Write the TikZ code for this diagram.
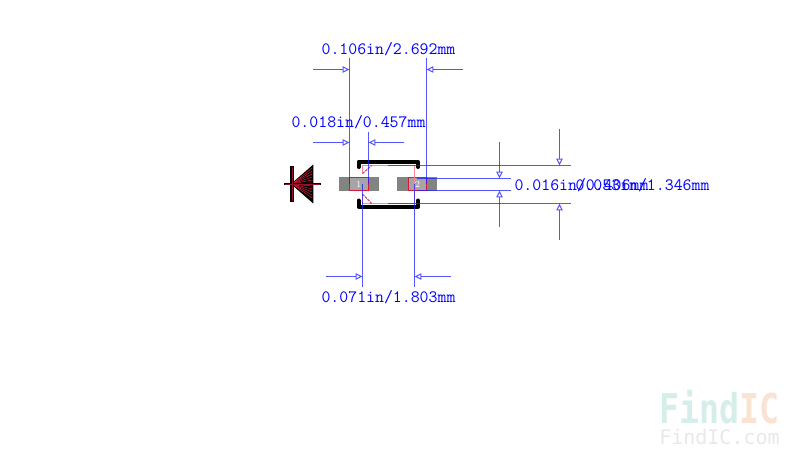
\documentclass[tikz,border=0pt]{standalone}
\usepackage{fontspec}
\usepackage{tikz}
\usetikzlibrary{arrows.meta,calc}
\newfontfamily\markfont{DejaVu Sans Mono}
\definecolor{padgrey}{RGB}{130,132,128}
\definecolor{padlight}{RGB}{165,165,165}
\definecolor{padred}{RGB}{215,25,60}
\definecolor{bodypink}{RGB}{250,135,155}
\definecolor{dimblue}{RGB}{30,30,255}
\definecolor{marktail}{RGB}{214,238,233}
\definecolor{markic}{RGB}{250,227,211}
\definecolor{markgrey}{RGB}{232,232,232}
\tikzset{
    dimline/.style={draw=dimblue,line width=0.75pt,opacity=0.75},
    dimarrow/.style={dimline,-{Triangle[open,length=5.2pt,width=4.8pt]}},
    dimtext/.style={text=blue,inner sep=0pt,font=\fontsize{13}{15}\selectfont\ttfamily},
    pad/.style={fill=padgrey,draw=none},
    silk/.style={draw=black,line width=3pt,line cap=round,line join=round},
    pinlabel/.style={text=white,inner sep=0pt,font=\fontsize{7}{8}\selectfont}
}
\begin{document}
\begin{tikzpicture}[x=0.75pt,y=-0.75pt]
        \useasboundingbox (0,0) rectangle (800,464);

        % Pads
        \fill[pad] (339,177) rectangle (379,191);
        \fill[pad] (397,177) rectangle (437,191);
        \fill[padlight] (349.5,177.5) rectangle (368.5,190.5);
        \fill[padlight] (408.5,177.5) rectangle (426.5,190.5);
        \draw[padred,line width=0.85pt] (349.5,177.5) rectangle (368.5,190.5);
        \draw[padred,line width=0.85pt] (408.5,177.5) rectangle (426.5,190.5);
        \node[pinlabel] (pin1) at (358.8,184) {1};
        \node[pinlabel] (pin2) at (417.5,184) {2};

        % Package outline
        \draw[silk] (358.5,167) -- (358.5,161.7) -- (418,161.7) -- (418,167);
        \draw[silk] (358.5,200.5) -- (358.5,207) -- (418,207) -- (418,200.5);
        \draw[bodypink,line width=0.85pt] (362.5,173.5) -- (362.5,165.5) -- (414.5,165.5) -- (414.5,203.5) -- (362.5,203.5) -- (362.5,194);
        \draw[padred!70!bodypink,line width=0.8pt,dash pattern=on 2pt off 0.7pt] (362.5,173.5) -- (371.7,165.5);
        \draw[padred!70!bodypink,line width=0.8pt,dash pattern=on 2pt off 0.7pt] (362.5,194) -- (371.7,203.5);

        % Diode symbol
        \draw[black,line width=1.1pt,fill=black] (292,184) -- (312.7,166) -- (312.7,202) -- cycle;
        \foreach \y in {168,171,...,200} {
            \draw[padred,line width=0.4pt] (292,184) -- (312.2,\y);
        }
        \draw[black,line width=2.6pt] (292,166) -- (292,202);
        \draw[black,line width=1.8pt] (284,184) -- (320.7,184);
        \draw[padred!70!black,line width=0.4pt] (292,167) -- (292,201);
        \draw[padred!70!black,line width=0.4pt] (285,184) -- (320,184);

        % Top dimension
        \coordinate (wideL) at (349.5,58);
        \coordinate (wideLfoot) at (349.5,184);
        \coordinate (wideR) at (426.5,58);
        \coordinate (wideRfoot) at (426.5,184);
        \coordinate (wideLtail) at (313,69.5);
        \coordinate (wideLtip) at (349.5,69.5);
        \coordinate (wideRtail) at (463.3,69.5);
        \coordinate (wideRtip) at (426.5,69.5);
        \draw[dimline] (wideL) -- (wideLfoot);
        \draw[dimline] (wideR) -- (wideRfoot);
        \draw[dimarrow] (wideLtail) -- (wideLtip);
        \draw[dimarrow] (wideRtail) -- (wideRtip);
        \node[dimtext] (wideText) at (388.5,49) {0.106in/2.692mm};

        % Pad width dimension
        \coordinate (padR) at (368.5,131.7);
        \coordinate (padRfoot) at (368.5,184);
        \coordinate (padLtail) at (313,142.5);
        \coordinate (padLtip) at (349.5,142.5);
        \coordinate (padRtail) at (404.3,142.5);
        \coordinate (padRtip) at (368.5,142.5);
        \draw[dimline] (padR) -- (padRfoot);
        \draw[dimarrow] (padLtail) -- (padLtip);
        \draw[dimarrow] (padRtail) -- (padRtip);
        \node[dimtext] (padText) at (358.5,122) {0.018in/0.457mm};

        % Bottom dimension
        \coordinate (gapL) at (362.5,184);
        \coordinate (gapLfoot) at (362.5,286.7);
        \coordinate (gapR) at (414.5,184);
        \coordinate (gapRfoot) at (414.5,286.7);
        \coordinate (gapLtail) at (326,276.5);
        \coordinate (gapLtip) at (362.5,276.5);
        \coordinate (gapRtail) at (450.7,276.5);
        \coordinate (gapRtip) at (414.5,276.5);
        \draw[dimline] (gapL) -- (gapLfoot);
        \draw[dimline] (gapR) -- (gapRfoot);
        \draw[dimarrow] (gapLtail) -- (gapLtip);
        \draw[dimarrow] (gapRtail) -- (gapRtip);
        \node[dimtext] (gapText) at (388.5,297) {0.071in/1.803mm};

        % Right side, inner dimension
        \coordinate (thinT) at (417,178.5);
        \coordinate (thinTend) at (510.7,178.5);
        \coordinate (thinB) at (417,190.5);
        \coordinate (thinBend) at (510.7,190.5);
        \coordinate (thinTtail) at (499.5,142);
        \coordinate (thinTtip) at (499.5,178.5);
        \coordinate (thinBtail) at (499.5,226.7);
        \coordinate (thinBtip) at (499.5,190.5);
        \draw[dimline] (thinT) -- (thinTend);
        \draw[dimline] (thinB) -- (thinBend);
        \draw[dimarrow] (thinTtail) -- (thinTtip);
        \draw[dimarrow] (thinBtail) -- (thinBtip);
        \node[dimtext] (thinText) at (581.5,185) {0.016in/0.406mm};

        % Right side, outer dimension
        \coordinate (tallT) at (388,165.5);
        \coordinate (tallTend) at (570.7,165.5);
        \coordinate (tallB) at (388,203.5);
        \coordinate (tallBend) at (570.7,203.5);
        \coordinate (tallTtail) at (559.5,128.7);
        \coordinate (tallTtip) at (559.5,165.5);
        \coordinate (tallBtail) at (559.5,240);
        \coordinate (tallBtip) at (559.5,203.5);
        \draw[dimline] (tallT) -- (tallTend);
        \draw[dimline] (tallB) -- (tallBend);
        \draw[dimarrow] (tallTtail) -- (tallTtip);
        \draw[dimarrow] (tallBtail) -- (tallBtip);
        \node[dimtext] (tallText) at (642.5,185) {0.053in/1.346mm};

        % Watermark
        \node[inner sep=0pt,anchor=base west,xscale=0.81,transform shape,font=\markfont\bfseries\fontsize{30.8}{32}\selectfont] (markBig) at (659,423) {\textcolor{marktail}{Find}\textcolor{markic}{IC}};
        \node[inner sep=0pt,anchor=base west,text=markgrey,font=\markfont\fontsize{15}{16}\selectfont] (markSmall) at (659,444) {FindIC.com};
\end{tikzpicture}
\end{document}
